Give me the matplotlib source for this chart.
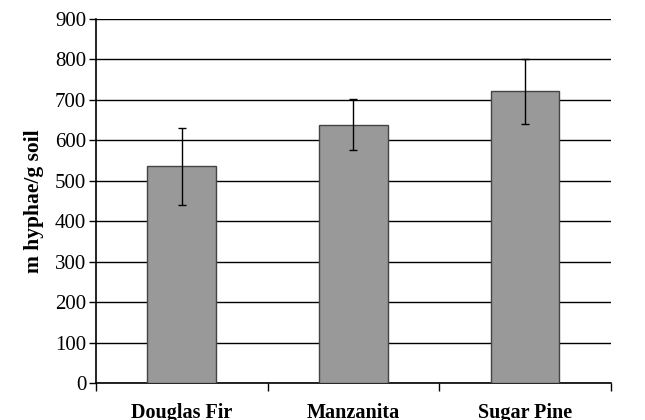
import matplotlib
matplotlib.use("Agg")
import matplotlib.pyplot as plt
import numpy as np

categories = ["Douglas Fir", "Manzanita", "Sugar Pine"]
means = [536, 638, 721]
errors = [95, 63, 80]
yticks = [0, 100, 200, 300, 400, 500, 600, 700, 800, 900]

plt.rcParams['font.family'] = ['Liberation Serif', 'DejaVu Serif']

fig = plt.figure(figsize=(6.45, 4.2), dpi=100)
ax = fig.add_axes([0.1488, 0.0881, 0.7982, 0.8667])

x = np.arange(len(categories))
ax.bar(x, means, width=0.4, color="#999999", edgecolor="#444444", linewidth=1.0, zorder=3)
ax.errorbar(x, means, yerr=errors, fmt="none", ecolor="black", elinewidth=1.0,
            capsize=3, capthick=1.0, zorder=4)

ax.set_xlim(-0.5, 2.5)
ax.set_ylim(0, 900)
ax.set_yticks(yticks)
ax.set_yticklabels([str(v) for v in yticks], fontsize=15)
ax.yaxis.grid(True, color="black", linewidth=1.0, zorder=0)
ax.set_axisbelow(True)

ax.set_xticks([-0.5, 0.5, 1.5, 2.5])
ax.set_xticklabels([])
ax.tick_params(axis="x", direction="out", length=6, width=1)
ax.tick_params(axis="y", direction="out", length=5, width=1, pad=2)
for i, c in enumerate(categories):
    ax.text(i, -0.056, c, transform=ax.get_xaxis_transform(), ha="center", va="top",
            fontsize=14.5, fontweight="bold")

ax.set_ylabel("m hyphae/g soil", fontsize=15.5, fontweight="bold", labelpad=8)

ax.spines["right"].set_visible(False)
ax.spines["top"].set_visible(False)
ax.spines["left"].set_linewidth(1.2)
ax.spines["bottom"].set_linewidth(1.2)

fig.savefig("out.png", dpi=100)
